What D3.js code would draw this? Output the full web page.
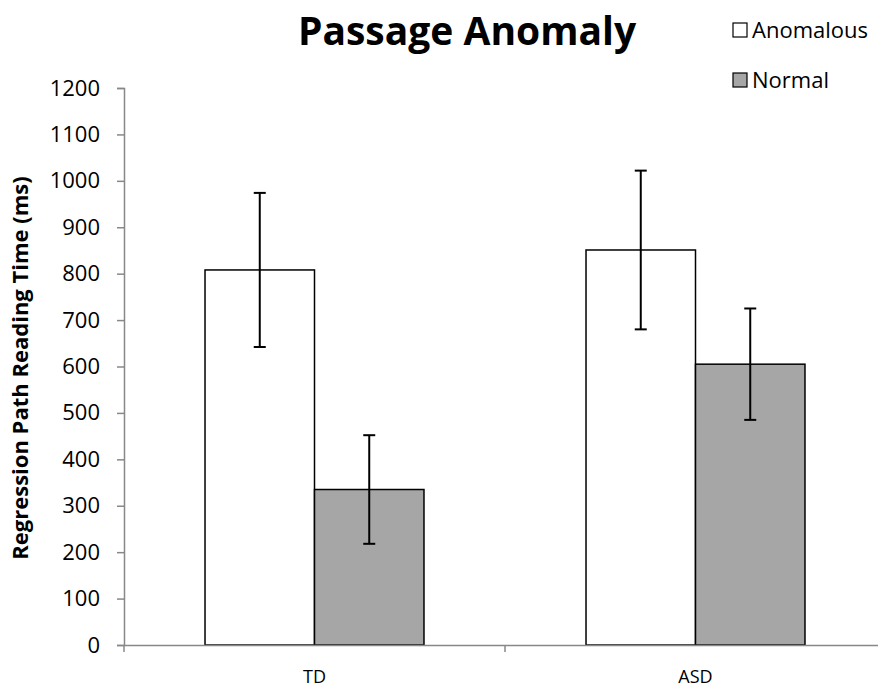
<!DOCTYPE html>
<html>
<head>
<meta charset="utf-8">
<script src="https://cdn.jsdelivr.net/npm/d3@7"></script>
<style>
  body { margin: 0; background: #fff; }
  text { font-family: "Open Sans", "Noto Sans", sans-serif; }
</style>
</head>
<body>
<div id="chart"></div>
<script>
// Data
var groups = ["TD", "ASD"];
var conditions = ["Anomalous", "Normal"];
var anomalousMeans = [808, 851];
var anomalousErrors = [166, 171];
var normalMeans = [335, 605];
var normalErrors = [117, 120];
var yTicks = [0, 100, 200, 300, 400, 500, 600, 700, 800, 900, 1000, 1100, 1200];

var width = 878;
var height = 695;
var margin = { top: 88, right: -8, bottom: 50, left: 124 };

var conditionColor = d3.scaleOrdinal().domain(conditions).range(["#ffffff", "#a6a6a6"]);

// build rows for drawing
var rows = [];
groups.forEach(function (g, i) {
    rows.push({ group: g, condition: "Anomalous", value: anomalousMeans[i], err: anomalousErrors[i] });
    rows.push({ group: g, condition: "Normal", value: normalMeans[i], err: normalErrors[i] });
});

var svg = d3.select("#chart")
    .append("svg")
    .attr("width", width)
    .attr("height", height);

var x = d3.scaleBand()
    .domain(groups)
    .range([margin.left, width - margin.right])
    .paddingInner(0)
    .paddingOuter(0);

var xInner = d3.scaleBand()
    .domain(conditions)
    .range([0, x.bandwidth()])
    .paddingInner(0)
    .paddingOuter(0.74);

var y = d3.scaleLinear()
    .domain([0, 1200])
    .range([height - margin.bottom, margin.top]);

// y axis
var yAxis = svg.append("g")
    .attr("transform", "translate(" + margin.left + ",0)")
    .call(d3.axisLeft(y).tickValues(yTicks).tickSize(7).tickPadding(17).tickFormat(d3.format("d")));
yAxis.select(".domain").attr("stroke", "#888").attr("stroke-width", 1.5);
yAxis.selectAll(".tick line").attr("stroke", "#888").attr("stroke-width", 1.5);
yAxis.selectAll(".tick text")
    .style("font-size", "22px")
    .attr("fill", "#000");

// bars
svg.selectAll(".bar")
    .data(rows)
    .enter().append("rect")
    .attr("class", "bar")
    .attr("x", function (d) { return x(d.group) + xInner(d.condition); })
    .attr("y", function (d) { return y(d.value); })
    .attr("width", xInner.bandwidth())
    .attr("height", function (d) { return y(0) - y(d.value); })
    .style("fill", function (d) { return conditionColor(d.condition); })
    .style("stroke", "#000")
    .style("stroke-width", 1.5);

// x axis (drawn over bar bottoms)
var xAxis = svg.append("g")
    .attr("transform", "translate(0," + y(0) + ")")
    .call(d3.axisBottom(x).tickSize(0).tickPadding(25));
xAxis.select(".domain").attr("stroke", "#888").attr("stroke-width", 1.5);
xAxis.selectAll(".tick text").style("font-size", "18px").attr("fill", "#000");

// x category boundary ticks
var bounds = [margin.left, margin.left + x.bandwidth(), margin.left + 2 * x.bandwidth()];
svg.selectAll(".xtick")
    .data(bounds)
    .enter().append("line")
    .attr("x1", function (d) { return d; })
    .attr("x2", function (d) { return d; })
    .attr("y1", y(0))
    .attr("y2", y(0) + 7)
    .attr("stroke", "#888")
    .attr("stroke-width", 1.5);

// error bars
var errG = svg.selectAll(".err")
    .data(rows)
    .enter().append("g")
    .attr("class", "err")
    .attr("transform", function (d) {
        return "translate(" + (x(d.group) + xInner(d.condition) + xInner.bandwidth() / 2) + ",0)";
    });
errG.append("line")
    .attr("y1", function (d) { return y(d.value + d.err); })
    .attr("y2", function (d) { return y(d.value - d.err); })
    .attr("stroke", "#000").attr("stroke-width", 2);
errG.append("line")
    .attr("x1", -6).attr("x2", 6)
    .attr("y1", function (d) { return y(d.value + d.err); })
    .attr("y2", function (d) { return y(d.value + d.err); })
    .attr("stroke", "#000").attr("stroke-width", 2);
errG.append("line")
    .attr("x1", -6).attr("x2", 6)
    .attr("y1", function (d) { return y(d.value - d.err); })
    .attr("y2", function (d) { return y(d.value - d.err); })
    .attr("stroke", "#000").attr("stroke-width", 2);

// title
svg.append("text")
    .attr("x", 467)
    .attr("y", 45)
    .attr("text-anchor", "middle")
    .style("font-size", "39px")
    .style("font-weight", "bold")
    .text("Passage Anomaly");

// y axis title
svg.append("text")
    .attr("transform", "translate(28," + 368 + ") rotate(-90)")
    .attr("text-anchor", "middle")
    .style("font-size", "22px")
    .style("font-weight", "bold")
    .text("Regression Path Reading Time (ms)");

// legend
var legend = svg.selectAll(".legend-item")
    .data(conditions)
    .enter().append("g")
    .attr("class", "legend-item")
    .attr("transform", function (d, i) { return "translate(733," + (23 + i * 50) + ")"; });
legend.append("rect")
    .attr("width", 14)
    .attr("height", 14)
    .style("fill", function (d) { return conditionColor(d); })
    .style("stroke", "#000")
    .style("stroke-width", 1.2);
legend.append("text")
    .attr("x", 19)
    .attr("y", 7)
    .attr("dy", "0.35em")
    .style("font-size", "22px")
    .text(function (d) { return d; });
</script>
</body>
</html>
